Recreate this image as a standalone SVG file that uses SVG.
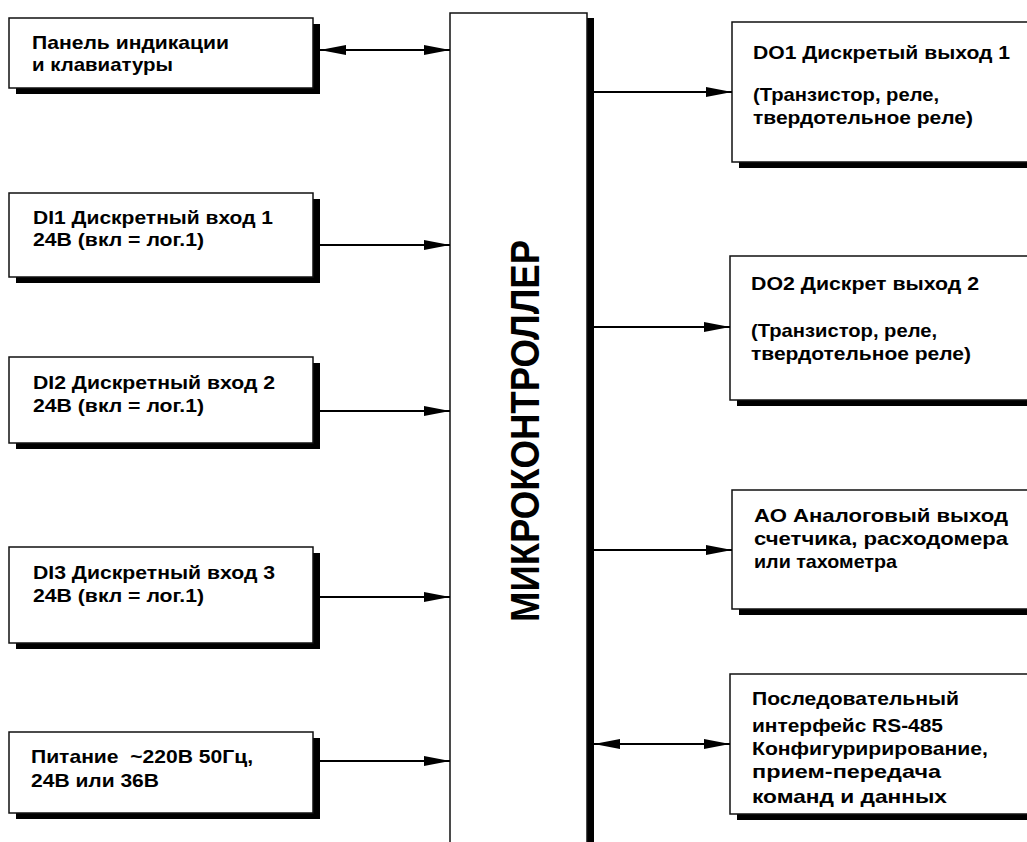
<svg xmlns="http://www.w3.org/2000/svg" width="1027" height="842" viewBox="0 0 1027 842">
<style>
.sh{fill:#000}
.bx{fill:#fff;stroke:#111;stroke-width:1.5}
.t{font-family:"Liberation Sans",Arial,sans-serif;font-weight:bold;font-size:19px;fill:#000}
.big{font-family:"Liberation Sans",Arial,sans-serif;font-weight:bold;font-size:40px;fill:#000}
.c{stroke:#000;stroke-width:2;fill:none}
</style>
<defs>
<marker id="ah" viewBox="0 0 26 10" refX="26" refY="5" markerWidth="26" markerHeight="10" markerUnits="userSpaceOnUse" orient="auto-start-reverse">
<path d="M0,0 L26,5 L0,10 Z" fill="#000"/>
</marker>
</defs>
<rect width="1027" height="842" fill="#fff"/>
<g id="mcu">
<rect class="sh" x="587" y="18" width="7" height="830"/>
<rect class="bx" x="450" y="13" width="137" height="840"/>
<text class="big" transform="translate(539,431) rotate(-90)" text-anchor="middle" textLength="382" lengthAdjust="spacingAndGlyphs">МИКРОКОНТРОЛЛЕР</text>
</g>
<g id="panel">
<rect class="sh" x="16" y="24" width="304" height="70"/>
<rect class="bx" x="9" y="18" width="304" height="70"/>
<text class="t" x="32" y="49" textLength="197" lengthAdjust="spacingAndGlyphs">Панель индикации</text>
<text class="t" x="32" y="71" textLength="141" lengthAdjust="spacingAndGlyphs">и клавиатуры</text>
</g>
<g id="di1">
<rect class="sh" x="16" y="199" width="304" height="84"/>
<rect class="bx" x="9" y="193" width="304" height="84"/>
<text class="t" x="33" y="224" textLength="240" lengthAdjust="spacingAndGlyphs">DI1 Дискретный вход 1</text>
<text class="t" x="33" y="246" textLength="171" lengthAdjust="spacingAndGlyphs">24В (вкл = лог.1)</text>
</g>
<g id="di2">
<rect class="sh" x="16" y="363" width="304" height="86"/>
<rect class="bx" x="9" y="357" width="304" height="86"/>
<text class="t" x="33" y="389" textLength="242" lengthAdjust="spacingAndGlyphs">DI2 Дискретный вход 2</text>
<text class="t" x="33" y="412" textLength="171" lengthAdjust="spacingAndGlyphs">24В (вкл = лог.1)</text>
</g>
<g id="di3">
<rect class="sh" x="16" y="553" width="304" height="96"/>
<rect class="bx" x="9" y="547" width="304" height="96"/>
<text class="t" x="33" y="579" textLength="242" lengthAdjust="spacingAndGlyphs">DI3 Дискретный вход 3</text>
<text class="t" x="33" y="602" textLength="171" lengthAdjust="spacingAndGlyphs">24В (вкл = лог.1)</text>
</g>
<g id="power">
<rect class="sh" x="16" y="738" width="304" height="81"/>
<rect class="bx" x="9" y="732" width="304" height="81"/>
<text class="t" x="31" y="763" textLength="222" lengthAdjust="spacingAndGlyphs" xml:space="preserve">Питание  ~220В 50Гц,</text>
<text class="t" x="31" y="787" textLength="128" lengthAdjust="spacingAndGlyphs">24В или 36В</text>
</g>
<g id="do1">
<rect class="sh" x="739" y="28" width="310" height="140"/>
<rect class="bx" x="732" y="22" width="310" height="140"/>
<text class="t" x="753" y="59" textLength="257" lengthAdjust="spacingAndGlyphs">DO1 Дискретый выход 1</text>
<text class="t" x="753" y="101" textLength="186" lengthAdjust="spacingAndGlyphs">(Транзистор, реле,</text>
<text class="t" x="753" y="124" textLength="220" lengthAdjust="spacingAndGlyphs">твердотельное реле)</text>
</g>
<g id="do2">
<rect class="sh" x="737" y="262" width="310" height="144"/>
<rect class="bx" x="730" y="256" width="310" height="144"/>
<text class="t" x="751" y="290" textLength="228" lengthAdjust="spacingAndGlyphs">DO2 Дискрет выход 2</text>
<text class="t" x="751" y="337" textLength="186" lengthAdjust="spacingAndGlyphs">(Транзистор, реле,</text>
<text class="t" x="751" y="360" textLength="220" lengthAdjust="spacingAndGlyphs">твердотельное реле)</text>
</g>
<g id="ao">
<rect class="sh" x="739" y="496" width="310" height="119"/>
<rect class="bx" x="732" y="490" width="310" height="119"/>
<text class="t" x="754" y="522" textLength="254" lengthAdjust="spacingAndGlyphs">АО Аналоговый выход</text>
<text class="t" x="754" y="545" textLength="254" lengthAdjust="spacingAndGlyphs">счетчика, расходомера</text>
<text class="t" x="754" y="568" textLength="143" lengthAdjust="spacingAndGlyphs">или тахометра</text>
</g>
<g id="rs485">
<rect class="sh" x="737" y="680" width="310" height="140"/>
<rect class="bx" x="730" y="674" width="310" height="140"/>
<text class="t" x="752" y="705" textLength="207" lengthAdjust="spacingAndGlyphs">Последовательный</text>
<text class="t" x="752" y="732" textLength="191" lengthAdjust="spacingAndGlyphs">интерфейс RS-485</text>
<text class="t" x="752" y="755" textLength="236" lengthAdjust="spacingAndGlyphs">Конфигуририрование,</text>
<text class="t" x="752" y="778" textLength="189" lengthAdjust="spacingAndGlyphs">прием-передача</text>
<text class="t" x="752" y="803" textLength="195" lengthAdjust="spacingAndGlyphs">команд и данных</text>
</g>
<g id="connectors">
<line class="c" x1="320" y1="50" x2="450" y2="50" marker-start="url(#ah)" marker-end="url(#ah)"/>
<line class="c" x1="320" y1="245" x2="450" y2="245" marker-end="url(#ah)"/>
<line class="c" x1="320" y1="411" x2="450" y2="411" marker-end="url(#ah)"/>
<line class="c" x1="320" y1="597" x2="450" y2="597" marker-end="url(#ah)"/>
<line class="c" x1="320" y1="761" x2="450" y2="761" marker-end="url(#ah)"/>
<line class="c" x1="594" y1="92" x2="732" y2="92" marker-end="url(#ah)"/>
<line class="c" x1="594" y1="327" x2="730" y2="327" marker-end="url(#ah)"/>
<line class="c" x1="594" y1="550" x2="732" y2="550" marker-end="url(#ah)"/>
<line class="c" x1="594" y1="744" x2="730" y2="744" marker-start="url(#ah)" marker-end="url(#ah)"/>
</g>
</svg>
